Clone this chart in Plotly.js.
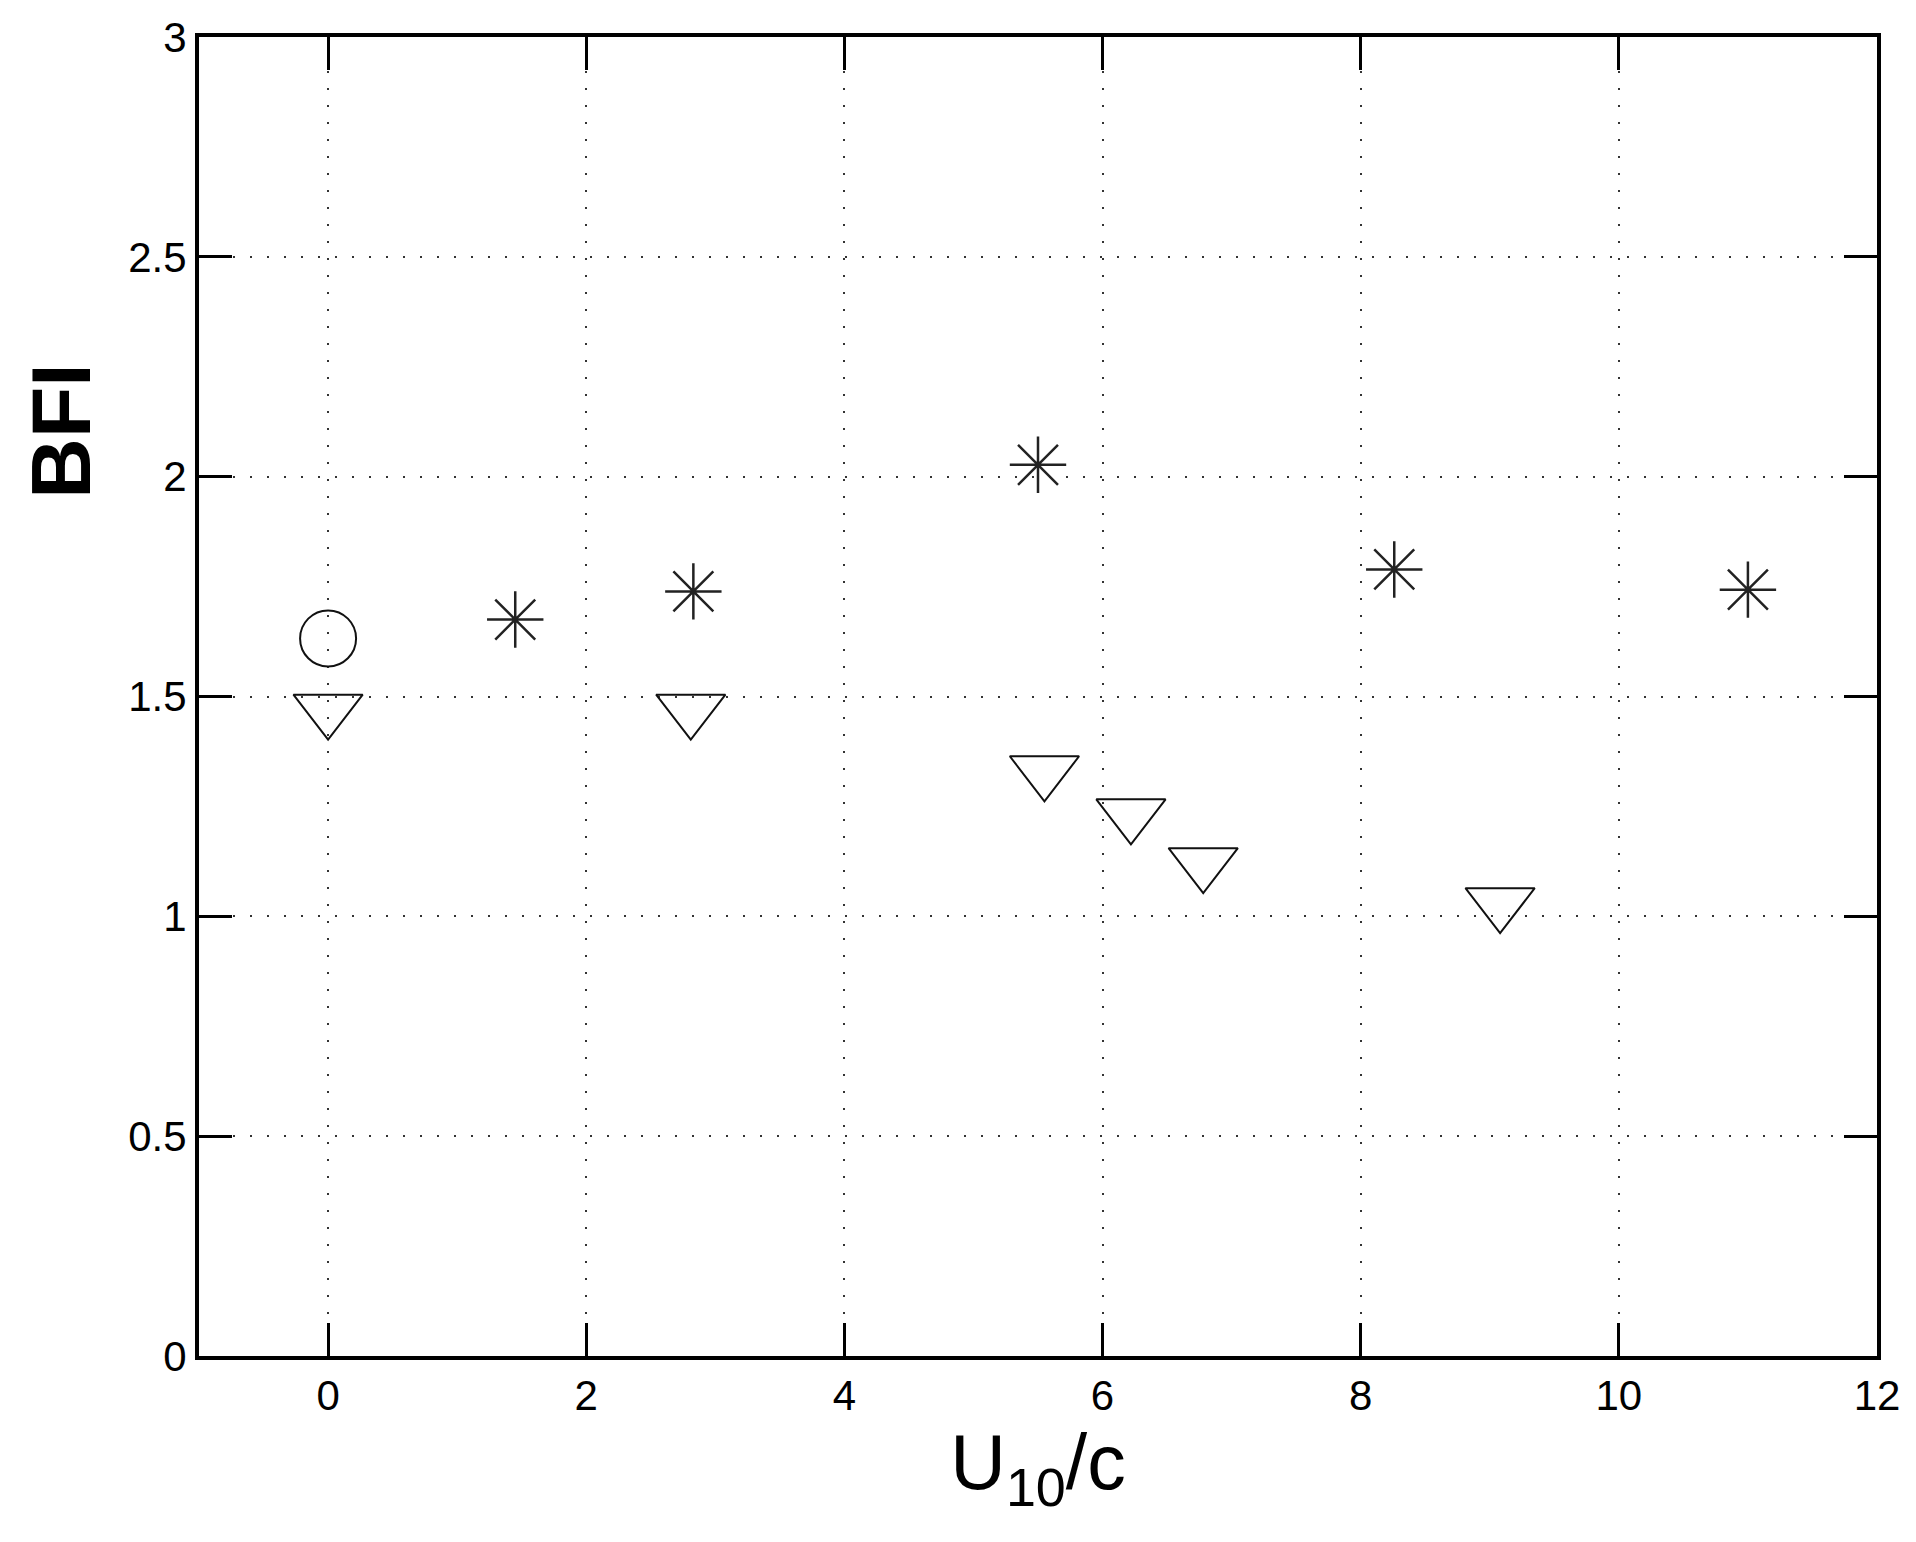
<!DOCTYPE html>
<html>
<head>
<meta charset="utf-8">
<script src="https://cdn.plot.ly/plotly-3.0.1.min.js"></script>
<style>
body{margin:0;padding:0;background:#fff;}
#divGraph{width:1916px;height:1542px;}
</style>
</head>
<body>
<div id="divGraph"></div>
<script>
// values
var circleX = [0];
var circleY = [1.632];

var starX = [1.45, 2.83, 5.50, 8.26, 11.0];
var starY = [1.675, 1.739, 2.027, 1.789, 1.743];

var triX = [0, 2.81, 5.55, 6.22, 6.78, 9.08];
var triY = [1.47, 1.47, 1.33, 1.232, 1.121, 1.03];

var xTicks = [0, 2, 4, 6, 8, 10, 12];
var yTicks = [0, 0.5, 1, 1.5, 2, 2.5, 3];

var font = 'Liberation Sans, Arial, Helvetica, sans-serif';

var trace1 = {
    x: circleX, y: circleY, type: 'scatter', mode: 'markers',
    marker: {symbol: 'circle-open', size: 56, color: '#111', line: {width: 2, color: '#111'}}
};
var trace2 = {
    x: starX, y: starY, type: 'scatter', mode: 'markers',
    marker: {symbol: 'asterisk-open', size: 47, color: '#222', line: {width: 2.5, color: '#222'}}
};
var trace3 = {
    x: triX, y: triY, type: 'scatter', mode: 'markers',
    marker: {symbol: 'triangle-down-open', size: 60, color: '#111', line: {width: 2, color: '#111'}}
};

var axisCommon = {
    showline: true, linecolor: '#000', linewidth: 4, mirror: 'ticks',
    ticks: 'inside', ticklen: 33, tickwidth: 3, tickcolor: '#000',
    showgrid: true, gridcolor: '#333', gridwidth: 2, griddash: '2px,15px',
    zeroline: false, tickfont: {family: font, size: 42, color: '#000'}
};

var layout = {
    width: 1916, height: 1542,
    margin: {l: 199, r: 39, t: 37, b: 186},
    paper_bgcolor: '#fff', plot_bgcolor: '#fff',
    showlegend: false,
    xaxis: Object.assign({}, axisCommon, {
        range: [-1, 12], tickvals: xTicks, ticktext: xTicks.map(String),
        title: {text: 'U<sub>10</sub>/c', font: {family: font, size: 77, color: '#000'}, standoff: 8}
    }),
    yaxis: Object.assign({}, axisCommon, {
        range: [0, 3], tickvals: yTicks, ticktext: yTicks.map(String),
        ticklabelstandoff: 0
    }),
    annotations: [{
        text: 'BFI', xref: 'paper', yref: 'paper', x: -0.082, y: 0.701,
        xanchor: 'center', yanchor: 'middle', textangle: -90, showarrow: false,
        font: {family: font, size: 84, color: '#000', weight: 'bold'}
    }]
};

var divGraph = document.getElementById('divGraph');
Plotly.newPlot(divGraph, [trace1, trace2, trace3], layout, {displayModeBar: false, staticPlot: true});
</script>
</body>
</html>
